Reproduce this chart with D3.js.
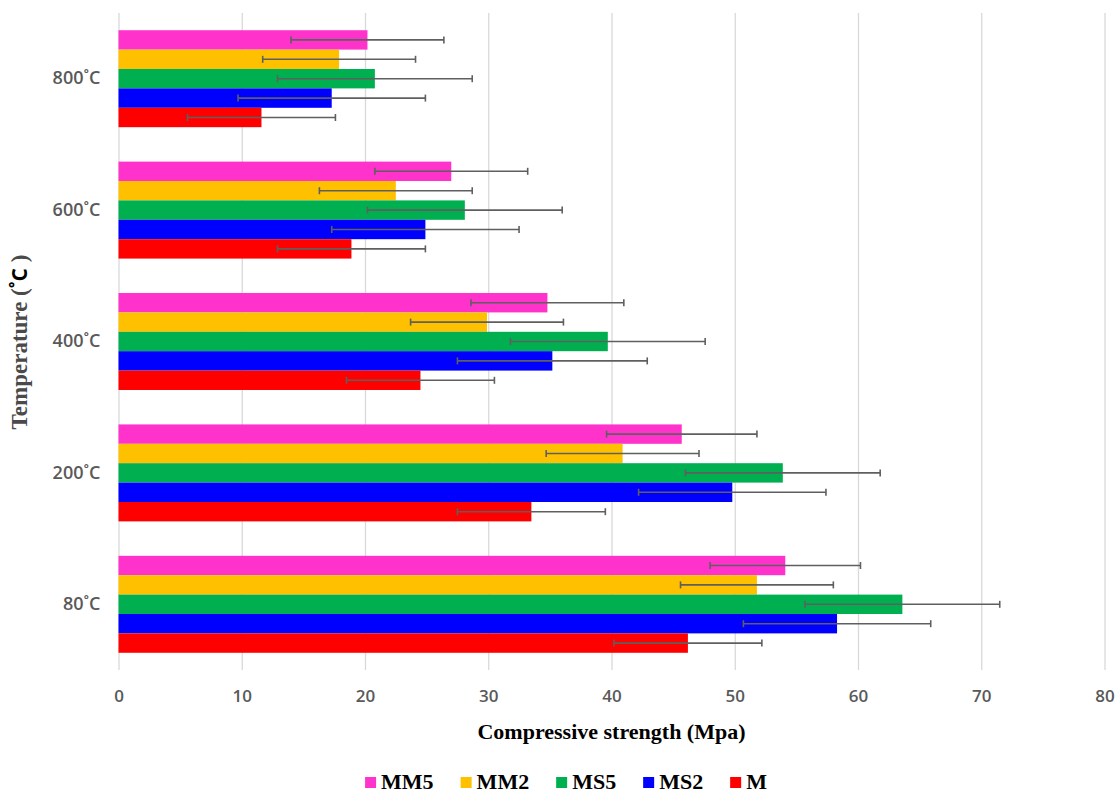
<!DOCTYPE html>
<html>
<head>
<meta charset="utf-8">
<script src="https://cdn.jsdelivr.net/npm/d3@7"></script>
<style>
  html, body { margin: 0; padding: 0; background: #fff; }
  svg { display: block; }
</style>
</head>
<body>
<svg id="chart" width="1117" height="794"></svg>
<script>
// Temperature groups, listed top to bottom as drawn
const temperatures = ["800˚C", "600˚C", "400˚C", "200˚C", "80˚C"];
// Mixes, listed top to bottom inside each group
const mixes = ["MM5", "MM2", "MS5", "MS2", "M"];
const mixColors = ["#FF33CC", "#FFC000", "#00B050", "#0000FF", "#FF0000"];

// Compressive strength (MPa) per mix, in the order of `temperatures`
const strengthMM5 = [20.2, 27.0, 34.8, 45.7, 54.1];
const strengthMM2 = [17.9, 22.5, 29.9, 40.9, 51.8];
const strengthMS5 = [20.8, 28.1, 39.7, 53.9, 63.6];
const strengthMS2 = [17.3, 24.9, 35.2, 49.8, 58.3];
const strengthM   = [11.6, 18.9, 24.5, 33.5, 46.2];

// Standard deviation (MPa) per mix, in the order of `temperatures`
const errorMM5 = [6.2, 6.2, 6.2, 6.1, 6.1];
const errorMM2 = [6.2, 6.2, 6.2, 6.2, 6.2];
const errorMS5 = [7.9, 7.9, 7.9, 7.9, 7.9];
const errorMS2 = [7.6, 7.6, 7.7, 7.6, 7.6];
const errorM   = [6.0, 6.0, 6.0, 6.0, 6.0];

const xTicks = [0, 10, 20, 30, 40, 50, 60, 70, 80];

const strengthByMix = { MM5: strengthMM5, MM2: strengthMM2, MS5: strengthMS5, MS2: strengthMS2, M: strengthM };
const errorByMix = { MM5: errorMM5, MM2: errorMM2, MS5: errorMS5, MS2: errorMS2, M: errorM };

const rows = [];
temperatures.forEach((t, i) => {
  mixes.forEach((m) => {
    rows.push({ temp: t, mix: m, value: strengthByMix[m][i], err: errorByMix[m][i] });
  });
});

const svg = d3.select("#chart");
const plot = { left: 118.5, right: 1104.5, top: 13, bottom: 670 };

const x = d3.scaleLinear().domain([0, 80]).range([plot.left, plot.right]);
const y = d3.scaleBand().domain(temperatures).range([plot.top, plot.bottom])
  .paddingInner(0.262).paddingOuter(0.131);
const yInner = d3.scaleBand().domain(mixes).range([0, y.bandwidth()]);
const color = d3.scaleOrdinal().domain(mixes).range(mixColors);

// Vertical gridlines and value labels
const xAxis = svg.append("g")
  .attr("transform", `translate(0,${plot.bottom})`)
  .call(d3.axisBottom(x).tickValues(xTicks).tickSize(-(plot.bottom - plot.top)).tickPadding(20));
xAxis.select(".domain").remove();
xAxis.selectAll(".tick line").attr("stroke", "#d9d9d9").attr("stroke-width", 1.3);
xAxis.selectAll(".tick text")
  .attr("fill", "#595959")
  .style("font-family", "'Open Sans', sans-serif")
  .style("font-weight", 600)
  .style("font-size", "17px");

// Temperature labels
const yAxis = svg.append("g")
  .attr("transform", `translate(${plot.left},0)`)
  .call(d3.axisLeft(y).tickSize(0).tickPadding(18));
yAxis.select(".domain").remove();
yAxis.selectAll(".tick text")
  .attr("fill", "#595959")
  .style("font-family", "'Open Sans', sans-serif")
  .style("font-weight", 600)
  .style("font-size", "18px");

// Bars
const bars = svg.append("g");
bars.selectAll("rect")
  .data(rows)
  .join("rect")
  .attr("x", x(0))
  .attr("y", d => y(d.temp) + yInner(d.mix))
  .attr("width", d => x(d.value) - x(0))
  .attr("height", yInner.bandwidth())
  .attr("fill", d => color(d.mix));

// Error bars
const capHalf = 3.5;
const errG = svg.append("g").attr("stroke", "#5f5f5f").attr("stroke-width", 1.6).attr("fill", "none");
rows.forEach(d => {
  const cy = y(d.temp) + yInner(d.mix) + yInner.bandwidth() / 2;
  const x0 = x(d.value - d.err), x1 = x(d.value + d.err);
  errG.append("line").attr("x1", x0).attr("x2", x1).attr("y1", cy).attr("y2", cy);
  errG.append("line").attr("x1", x0).attr("x2", x0).attr("y1", cy - capHalf).attr("y2", cy + capHalf);
  errG.append("line").attr("x1", x1).attr("x2", x1).attr("y1", cy - capHalf).attr("y2", cy + capHalf);
});

// Axis titles
svg.append("text")
  .attr("x", (plot.left + plot.right) / 2)
  .attr("y", 739)
  .attr("text-anchor", "middle")
  .attr("fill", "#000")
  .style("font-family", "'Liberation Serif', 'Times New Roman', serif")
  .style("font-weight", "bold")
  .style("font-size", "22px")
  .text("Compressive strength (Mpa)");

const yTitle = svg.append("text")
  .attr("transform", "translate(27,342) rotate(-90)")
  .attr("text-anchor", "middle")
  .attr("fill", "#4a4a4a")
  .style("font-family", "'Liberation Serif', 'Times New Roman', serif")
  .style("font-weight", "bold")
  .style("font-size", "23px");
yTitle.append("tspan").text("Temperature (");
yTitle.append("tspan")
  .attr("fill", "#000")
  .style("font-family", "'Open Sans', sans-serif")
  .style("font-size", "21px")
  .text("˚C");
yTitle.append("tspan").text(" )");

// Legend
const legend = svg.append("g");
const items = legend.selectAll("g").data(mixes).join("g");
items.append("rect")
  .attr("width", 11).attr("height", 11)
  .attr("y", -12)
  .attr("fill", d => color(d));
items.append("text")
  .attr("x", 16)
  .attr("y", 0)
  .attr("fill", "#000")
  .style("font-family", "'Liberation Serif', 'Times New Roman', serif")
  .style("font-weight", "bold")
  .style("font-size", "22px")
  .text(d => d);
let cursor = 0;
const offsets = [];
items.each(function () {
  offsets.push(cursor);
  const w = d3.select(this).select("text").node().getComputedTextLength();
  cursor += 16 + w + 27;
});
const total = cursor - 27;
const legendStart = 566 - total / 2;
items.attr("transform", (d, i) => `translate(${legendStart + offsets[i]},789)`);
</script>
</body>
</html>
